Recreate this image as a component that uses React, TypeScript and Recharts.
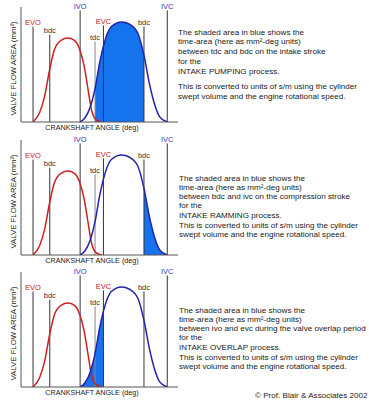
import React from 'react'
import { ComposedChart, Line, Area, XAxis, YAxis, ReferenceLine } from 'recharts'

// exhaust valve lift curve (red), crank deg vs flow area
const EXHAUST_DEG = [116, 141, 160, 179, 198, 223, 249, 274, 293, 312, 325, 340, 357, 378]
const EXHAUST_AREA = [0, 8, 22, 45, 63, 71, 73, 71, 64, 48, 30, 10, 2, 0]

// intake valve curve (blue)
const INTAKE_DEG = [296, 314, 333, 353, 371, 385, 415, 454, 485, 517, 540, 562, 581, 600, 629]
const INTAKE_AREA = [0, 3.5, 12, 29, 52, 66, 83, 87, 85, 77, 58, 32, 15, 4.5, 0]

// timing markers
const MARKER_LABELS = ['EVO', 'bdc', 'IVO', 'tdc', 'EVC', 'bdc', 'IVC']
const MARKER_DEG = [116, 180, 296, 353, 385, 540, 629]
const MARKER_TOP = [83, 76, 97, 70, 84, 83, 97]

// shaded range per panel
const SHADE_FROM = [353, 540, 296]
const SHADE_TO = [540, 629, 385]
const PROCESS_TEXT = [
  ['between tdc and bdc on the intake stroke', 'INTAKE PUMPING process.'],
  ['between bdc and ivc on the compression stroke', 'INTAKE RAMMING process.'],
  ['between ivo and evc during the valve overlap period', 'INTAKE OVERLAP process.'],
]

const FONT = '"Liberation Sans", Arial, sans-serif'
const RED = '#cc2222'
const BLUE = '#2222aa'
const FILL = '#1673ee'

const exhaust = EXHAUST_DEG.map((deg, i) => ({ deg, v: EXHAUST_AREA[i] }))
const intake = INTAKE_DEG.map((deg, i) => ({ deg, v: INTAKE_AREA[i] }))

const markerColor = (label: string) => {
  if (label === 'EVO' || label === 'EVC') return RED
  if (label === 'IVO' || label === 'IVC') return '#3333aa'
  return '#333'
}

const XTitle = (props: any) => {
  const vb = props.viewBox || { x: 21, y: 122, width: 157 }
  return (
    <text x={vb.x + vb.width / 2 - 7.5} y={vb.y + 7.5} textAnchor="middle" fontSize={7.2} fill="#222" fontFamily={FONT}>
      CRANKSHAFT ANGLE (deg)
    </text>
  )
}

const YTitle = (props: any) => {
  const vb = props.viewBox || { x: 0, y: 7, height: 115 }
  const cx = 15.7
  const cy = vb.y + vb.height / 2 + 4
  return (
    <text x={cx} y={cy} transform={`rotate(-90, ${cx}, ${cy})`} textAnchor="middle" fontSize={7.8} fill="#222" fontFamily={FONT}>
      VALVE FLOW AREA (mm²)
    </text>
  )
}

function Panel({ idx }: { idx: number }) {
  const shade = intake.filter(d => d.deg >= SHADE_FROM[idx] && d.deg <= SHADE_TO[idx])
  return (
    <ComposedChart width={185} height={133} margin={{ top: 7, right: 7, left: 0, bottom: 0 }}>
      <XAxis
        type="number"
        dataKey="deg"
        domain={[70, 670]}
        allowDataOverflow
        ticks={[]}
        tick={false}
        tickLine={false}
        axisLine={{ stroke: '#555' }}
        height={11}
        label={<XTitle />}
      />
      <YAxis
        type="number"
        domain={[0, 100]}
        allowDataOverflow
        ticks={[]}
        tick={false}
        tickLine={false}
        axisLine={{ stroke: '#555' }}
        width={21}
        label={<YTitle />}
      />
      <Area
        data={shade}
        dataKey="v"
        type="monotone"
        fill={FILL}
        fillOpacity={1}
        stroke="none"
        isAnimationActive={false}
      />
      {MARKER_DEG.map((deg, i) => (
        <ReferenceLine
          key={i}
          segment={[{ x: deg, y: 0 }, { x: deg, y: MARKER_TOP[i] }]}
          stroke={MARKER_LABELS[i] === 'tdc' ? '#888' : '#333'}
          strokeWidth={1}
          label={{
            value: MARKER_LABELS[i],
            position: 'top',
            offset: 1.5,
            fontSize: 7.5,
            fill: markerColor(MARKER_LABELS[i]),
            fontFamily: FONT,
          }}
        />
      ))}
      <Line data={exhaust} dataKey="v" type="monotone" stroke={RED} strokeWidth={1.5} dot={false} isAnimationActive={false} />
      <Line data={intake} dataKey="v" type="monotone" stroke={BLUE} strokeWidth={1.5} dot={false} isAnimationActive={false} />
    </ComposedChart>
  )
}

function Notes({ idx }: { idx: number }) {
  const first = idx === 0
  const p1Top = first ? 27.5 : 40.5
  const p1Lh = first ? 9.8 : 9.3
  const p2Top = first ? 82 : 87.8
  const p2Lh = first ? 10 : 9.2
  const left = first ? 178 : 179
  return (
    <>
      <div style={{ position: 'absolute', left, top: p1Top, lineHeight: `${p1Lh}px`, fontSize: 8.1, whiteSpace: 'nowrap' }}>
        The shaded area in blue shows the<br />
        time-area (here as mm²-deg units)<br />
        {PROCESS_TEXT[idx][0]}<br />
        for the<br />
        {PROCESS_TEXT[idx][1]}
      </div>
      <div style={{ position: 'absolute', left, top: p2Top, lineHeight: `${p2Lh}px`, fontSize: 8.1, whiteSpace: 'nowrap' }}>
        This is converted to units of s/m using the cylinder<br />
        swept volume and the engine rotational speed.
      </div>
    </>
  )
}

const PANEL_TOP = [0, 133, 265]

export default function App() {
  return (
    <div style={{ position: 'absolute', left: 0, top: 0, width: 369, height: 402, background: '#fff', fontFamily: FONT, color: '#222', overflow: 'hidden' }}>
      {PANEL_TOP.map((top, i) => (
        <div key={i} style={{ position: 'absolute', left: 0, top, width: 369, height: 133 }}>
          <Panel idx={i} />
          <Notes idx={i} />
        </div>
      ))}
      <div style={{ position: 'absolute', left: 255, top: 391, fontSize: 8.1, lineHeight: '10px', whiteSpace: 'nowrap' }}>
        © Prof. Blair &amp; Associates 2002
      </div>
    </div>
  )
}
